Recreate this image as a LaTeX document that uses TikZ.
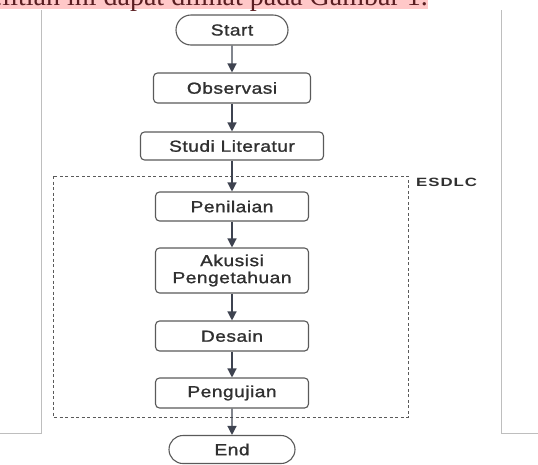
\documentclass[tikz,border=0pt]{standalone}
\usepackage{fontspec}
\setmainfont{Liberation Sans}
\newfontfamily\kotakfont{Liberation Sans}[FakeStretch=1.2, FakeBold=1.2, LetterSpace=3]
\newfontfamily\labelfont{Liberation Sans}[FakeStretch=1.4, LetterSpace=8]
\newfontfamily\paragraffont{Liberation Serif}
\usetikzlibrary{shapes.misc,arrows.meta}

\definecolor{garis}{HTML}{5A5A5A}
\definecolor{warnapanah}{HTML}{3E4350}
\definecolor{bingkai}{HTML}{BEBEBE}
\definecolor{sorot}{HTML}{FFC8C8}
\definecolor{teksparagraf}{HTML}{5A1E22}
\definecolor{teksbox}{HTML}{303030}

\tikzset{
	kotak/.style = {draw = garis, line width = 1.1pt, rounded corners = 4pt, fill = white,
		minimum width = 153pt, minimum height = 30pt, inner sep = 0pt, align = center,
		text = teksbox, font = \kotakfont\fontsize{16}{18}\selectfont},
	terminal/.style = {kotak, rounded rectangle, rounded corners = 0pt},
	panah/.style = {draw = warnapanah, line width = 1.3pt, -{Triangle[length = 9pt, width = 9pt]}}
}

\begin{document}
\begin{tikzpicture}[x = 1pt, y = -1pt]
	\useasboundingbox (0,0) rectangle (538,464);
	\clip (0,0) rectangle (538,464);

	% potongan paragraf di atas gambar
	\fill[sorot] (0,0) rectangle (428,9);
	\node[anchor = base east, inner sep = 0pt, text = teksparagraf,
		font = \paragraffont\fontsize{28}{30}\selectfont] (paragraf) at (428,5.5)
		{penelitian ini dapat dilihat pada Gambar 1.};

	% garis tepi halaman
	\draw[bingkai, line width = 1pt] (41,10) -- (41,433) -- (0,433);
	\draw[bingkai, line width = 1pt] (501,10) -- (501,433) -- (538,433);

	% tahapan
	\node[terminal, minimum width = 112pt] (start) at (232,30) {Start};
	\node[kotak, minimum width = 157pt] (observasi) at (232,88) {Observasi};
	\node[kotak, minimum width = 183pt, minimum height = 28pt] (studi) at (232,146) {Studi Literatur};
	\node[kotak, minimum height = 29pt] (penilaian) at (232,206.5) {Penilaian};
	\node[kotak, minimum height = 45pt] (akusisi) at (232,270.5) {Akusisi\\[-1pt]Pengetahuan};
	\node[kotak] (desain) at (232,336) {Desain};
	\node[kotak] (pengujian) at (232,393) {Pengujian};
	\node[terminal, minimum width = 126pt, minimum height = 28pt] (end) at (232,449.5) {End};

	% kelompok ESDLC
	\draw[garis, line width = 1pt, dash pattern = on 3pt off 2.5pt] (53,176) rectangle (408,417);
	\node[anchor = west, inner sep = 0pt, text = teksbox,
		font = \labelfont\bfseries\fontsize{12}{13}\selectfont] (esdlc) at (416,182) {ESDLC};

	% alur
	\draw[panah] (start) -- (observasi);
	\draw[panah] (observasi) -- (studi);
	\draw[panah] (studi) -- (penilaian);
	\draw[panah] (penilaian) -- (akusisi);
	\draw[panah] (akusisi) -- (desain);
	\draw[panah] (desain) -- (pengujian);
	\draw[panah] (pengujian) -- (end);
\end{tikzpicture}
\end{document}
